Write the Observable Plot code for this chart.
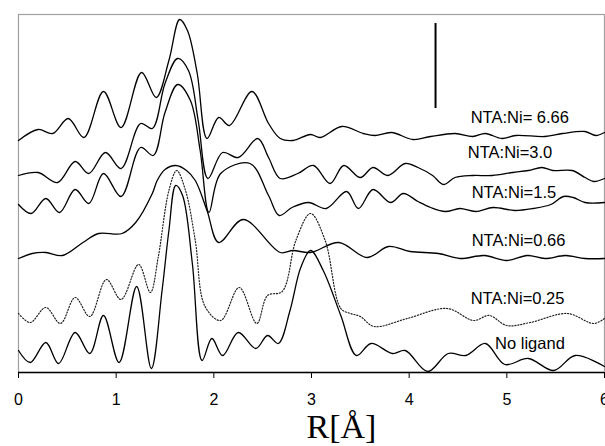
<!DOCTYPE html>
<html><head><meta charset="utf-8">
<script src="https://cdn.jsdelivr.net/npm/d3@7"></script>
<script src="https://cdn.jsdelivr.net/npm/@observablehq/plot@0.6"></script>
<style>
body{margin:0;background:#fff;}
#chart svg{display:block;}
</style>
</head><body><div id="chart"></div>
<script>
// R values (Å) and FT amplitudes (a.u., stacked with offsets as in the figure)
const r_666 = [0,0.2,0.35,0.51,0.67,0.87,1.05,1.26,1.41,1.54,1.65,1.73,1.83,1.93,2.05,2.16,2.39,2.56,2.68,2.81,2.99,3.09,3.31,3.53,3.65,3.82,4.04,4.22,4.47,4.65,4.78,4.95,5.09,5.39,5.57,5.8,5.91,6.0];
const v_666 = [232,243,239,254,235,281,245,300,275,312,353,342,299,234,255,247,281,249,234,232,238,235,246,239,237,240,233,236,239,236,239,234,237,236,239,241,237,240];

const r_30 = [0,0.2,0.4,0.58,0.72,0.89,1.05,1.25,1.37,1.5,1.63,1.74,1.84,1.94,2.09,2.25,2.45,2.56,2.68,2.86,3.02,3.19,3.33,3.5,3.63,3.78,3.96,4.09,4.24,4.35,4.47,4.65,4.85,5.06,5.22,5.36,5.47,5.67,5.8,5.89,6.0];
const v_30 = [197,200,190,211,199,220,204,249,244,289,314,302,252,194,220,215,234,215,194,199,207,189,207,195,205,197,209,205,197,188,195,197,197,200,202,205,202,202,195,191,194];

const r_15 = [0,0.13,0.28,0.42,0.58,0.72,0.87,1.05,1.25,1.38,1.5,1.63,1.76,1.86,1.95,2.07,2.37,2.56,2.67,2.8,2.97,3.15,3.36,3.48,3.63,3.81,3.94,4.09,4.22,4.37,4.52,4.68,4.86,5.08,5.27,5.45,5.58,5.68,5.8,6.0];
const v_15 = [168,159,174,160,183,169,199,176,225,217,260,288,272,222,160,199,209,177,157,165,170,164,181,164,183,170,179,171,165,161,164,161,165,162,164,168,176,175,170,170];

const r_066 = [0,0.14,0.28,0.45,0.66,0.82,1.06,1.2,1.37,1.42,1.5,1.61,1.72,1.81,1.93,2.05,2.3,2.68,2.81,2.99,3.28,3.57,3.79,4.01,4.3,4.52,4.77,5.0,5.21,5.39,5.6,5.8,6.0];
const v_066 = [114,119,120,117,130,139,139,150,179,192,203,207,202,192,162,130,153,120,122,120,130,115,126,121,119,114,117,112,117,114,117,114,114];

const r_025 = [0,0.12,0.28,0.43,0.58,0.73,0.9,1.05,1.23,1.35,1.43,1.54,1.62,1.71,1.81,1.91,2.07,2.26,2.44,2.55,2.7,2.84,2.99,3.14,3.3,3.4,3.5,3.64,3.98,4.39,4.66,4.82,5.0,5.24,5.62,5.89,6.0];
const v_025 = [59,50,65,49,75,56,93,73,108,80,115,182,202,182,132,66,52,85,49,77,81,132,159,132,64,59,56,46,54,64,52,57,47,50,59,49,54];

const r_none = [0,0.12,0.28,0.41,0.58,0.73,0.87,1.03,1.21,1.36,1.47,1.54,1.61,1.68,1.78,1.88,1.98,2.09,2.25,2.43,2.55,2.66,2.78,2.89,2.99,3.12,3.3,3.46,3.61,3.83,3.96,4.19,4.4,4.58,4.78,4.98,5.22,5.48,5.7,6.0];
const v_none = [22,10,30,9,40,19,57,10,86,4,82,142,187,177,109,12,34,17,40,24,37,29,62,105,122,102,57,17,29,19,22,1,19,17,29,8,14,2,17,6];

const seriesNames = ["NTA:Ni= 6.66","NTA:Ni=3.0","NTA:Ni=1.5","NTA:Ni=0.66","NTA:Ni=0.25","No ligand"];
const seriesR = [r_666, r_30, r_15, r_066, r_025, r_none];
const seriesV = [v_666, v_30, v_15, v_066, v_025, v_none];
const dottedSeries = ["NTA:Ni=0.25"];

const labelR = [4.63, 4.6, 4.64, 4.64, 4.63, 4.88];
const labelV = [255, 220, 180, 132, 74, 29];

const xTicks = [0,1,2,3,4,5,6];
const scaleBarR = 4.27;
const scaleBarV = [264, 349];
const xTitle = "R[Å]";

const rows = [];
seriesNames.forEach((name, i) => {
  seriesR[i].forEach((r, j) => rows.push({series: name, r, v: seriesV[i][j]}));
});
const solidRows = rows.filter(d => !dottedSeries.includes(d.series));
const dottedRows = rows.filter(d => dottedSeries.includes(d.series));
const labels = seriesNames.map((name, i) => ({name, r: labelR[i], v: labelV[i]}));

const chart = Plot.plot({
  width: 605,
  height: 446,
  marginLeft: 18,
  marginRight: 1,
  marginTop: 14,
  marginBottom: 74,
  x: {domain: [0, 6]},
  y: {domain: [0, 358], axis: null},
  style: {fontFamily: "'Liberation Sans', Arial, sans-serif", fontSize: "16px", background: "#fff", color: "#000", overflow: "visible"},
  marks: [
    Plot.frame({stroke: "#a0a0a0", strokeWidth: 1.2}),
    Plot.lineY(solidRows, {x: "r", y: "v", z: "series", curve: "catmull-rom", stroke: "#000", strokeWidth: 1.3}),
    Plot.lineY(dottedRows, {x: "r", y: "v", z: "series", curve: "catmull-rom", stroke: "#222", strokeWidth: 1.2, strokeDasharray: "1.2,1.8"}),
    Plot.ruleY([0], {stroke: "#000", strokeWidth: 1.3}),
    Plot.axisX({ticks: xTicks, tickSize: 6, tickPadding: 15, label: null, fontSize: 16, tickFormat: d => String(d)}),
    Plot.ruleX([scaleBarR], {x: d => d, y1: scaleBarV[0], y2: scaleBarV[1], stroke: "#000", strokeWidth: 2}),
    Plot.text(labels, {x: "r", y: "v", text: "name", textAnchor: "start", fontSize: 16.5, fill: "#000", ariaLabel: "labels"}),
    Plot.text([xTitle], {frameAnchor: "bottom", lineAnchor: "middle", dx: 30, dy: 55, fontFamily: "'Liberation Serif', 'Times New Roman', serif", fontSize: 34, fill: "#000", ariaLabel: "xtitle"})
  ]
});
d3.select(chart).selectAll('g[aria-label="labels"] text').attr("letter-spacing", "1.5px");
document.getElementById("chart").appendChild(chart);
</script>
</body></html>
